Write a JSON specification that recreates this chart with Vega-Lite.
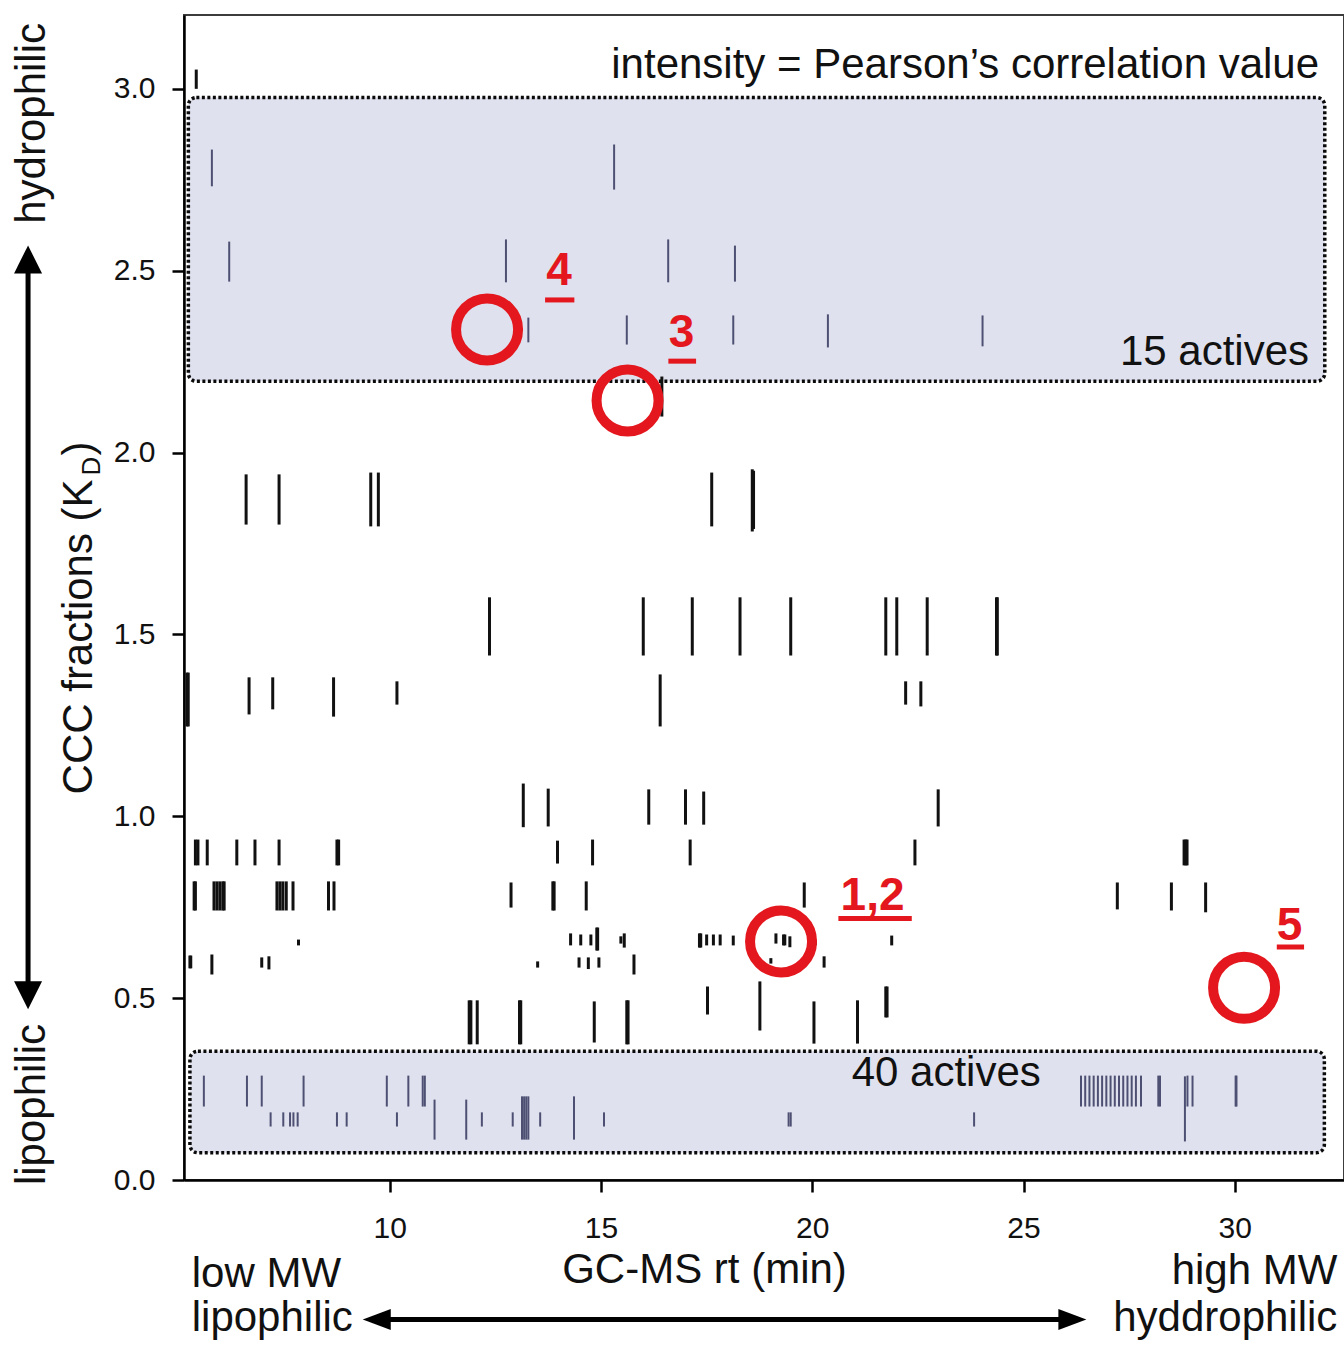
{
  "$schema": "https://vega.github.io/schema/vega-lite/v6.json",
  "width": 1160,
  "height": 1165,
  "autosize": {"type": "none"},
  "padding": {"left": 184, "top": 15, "right": 0, "bottom": 166},
  "background": "#ffffff",
  "config": {
    "font": "Liberation Sans",
    "view": {"stroke": "#3c3c3c", "strokeWidth": 2},
    "axis": {"grid": false, "domainColor": "#000000", "domainWidth": 2.5, "tickColor": "#000000", "tickWidth": 2.5, "tickSize": 12, "labelFont": "Liberation Sans", "labelFontSize": 30, "labelColor": "#111111"}
  },
  "datasets": {
    "boxes": [
      {"rt": 5.233, "rt2": 32.13, "kd": 2.196, "kd2": 2.976},
      {"rt": 5.27, "rt2": 32.12, "kd": 0.075, "kd2": 0.354}
    ],
    "peaks": [
      {"rt": 5.42, "kd": 3.0, "kd2": 3.053, "set": "other"},
      {"rt": 16.44, "kd": 2.099, "kd2": 2.209, "set": "other"},
      {"rt": 6.6, "kd": 1.802, "kd2": 1.94, "set": "other"},
      {"rt": 7.38, "kd": 1.802, "kd2": 1.94, "set": "other"},
      {"rt": 9.55, "kd": 1.797, "kd2": 1.945, "set": "other"},
      {"rt": 9.73, "kd": 1.797, "kd2": 1.945, "set": "other"},
      {"rt": 17.62, "kd": 1.797, "kd2": 1.945, "set": "other"},
      {"rt": 18.58, "kd": 1.783, "kd2": 1.954, "set": "other"},
      {"rt": 18.61, "kd": 1.79, "kd2": 1.95, "set": "other"},
      {"rt": 12.36, "kd": 1.442, "kd2": 1.602, "set": "other"},
      {"rt": 16.0, "kd": 1.442, "kd2": 1.602, "set": "other"},
      {"rt": 17.16, "kd": 1.442, "kd2": 1.602, "set": "other"},
      {"rt": 18.29, "kd": 1.442, "kd2": 1.602, "set": "other"},
      {"rt": 19.49, "kd": 1.442, "kd2": 1.602, "set": "other"},
      {"rt": 21.74, "kd": 1.442, "kd2": 1.602, "set": "other"},
      {"rt": 22.0, "kd": 1.442, "kd2": 1.602, "set": "other"},
      {"rt": 22.72, "kd": 1.442, "kd2": 1.602, "set": "other"},
      {"rt": 24.36, "kd": 1.442, "kd2": 1.602, "set": "other"},
      {"rt": 24.38, "kd": 1.442, "kd2": 1.602, "set": "other"},
      {"rt": 5.2, "kd": 1.247, "kd2": 1.395, "set": "other"},
      {"rt": 5.23, "kd": 1.247, "kd2": 1.395, "set": "other"},
      {"rt": 6.67, "kd": 1.28, "kd2": 1.382, "set": "other"},
      {"rt": 7.23, "kd": 1.294, "kd2": 1.382, "set": "other"},
      {"rt": 8.67, "kd": 1.274, "kd2": 1.382, "set": "other"},
      {"rt": 10.17, "kd": 1.307, "kd2": 1.371, "set": "other"},
      {"rt": 16.4, "kd": 1.247, "kd2": 1.39, "set": "other"},
      {"rt": 22.21, "kd": 1.307, "kd2": 1.371, "set": "other"},
      {"rt": 22.57, "kd": 1.302, "kd2": 1.371, "set": "other"},
      {"rt": 13.16, "kd": 0.97, "kd2": 1.09, "set": "other"},
      {"rt": 13.75, "kd": 0.972, "kd2": 1.076, "set": "other"},
      {"rt": 16.13, "kd": 0.977, "kd2": 1.074, "set": "other"},
      {"rt": 17.0, "kd": 0.977, "kd2": 1.074, "set": "other"},
      {"rt": 17.43, "kd": 0.977, "kd2": 1.068, "set": "other"},
      {"rt": 22.98, "kd": 0.972, "kd2": 1.074, "set": "other"},
      {"rt": 5.4, "kd": 0.865, "kd2": 0.936, "set": "other"},
      {"rt": 5.46, "kd": 0.865, "kd2": 0.936, "set": "other"},
      {"rt": 5.68, "kd": 0.865, "kd2": 0.936, "set": "other"},
      {"rt": 6.38, "kd": 0.865, "kd2": 0.936, "set": "other"},
      {"rt": 6.81, "kd": 0.865, "kd2": 0.936, "set": "other"},
      {"rt": 7.38, "kd": 0.865, "kd2": 0.936, "set": "other"},
      {"rt": 8.75, "kd": 0.865, "kd2": 0.936, "set": "other"},
      {"rt": 8.79, "kd": 0.865, "kd2": 0.936, "set": "other"},
      {"rt": 13.97, "kd": 0.87, "kd2": 0.933, "set": "other"},
      {"rt": 14.8, "kd": 0.865, "kd2": 0.936, "set": "other"},
      {"rt": 17.11, "kd": 0.865, "kd2": 0.936, "set": "other"},
      {"rt": 22.43, "kd": 0.865, "kd2": 0.936, "set": "other"},
      {"rt": 28.8, "kd": 0.865, "kd2": 0.936, "set": "other"},
      {"rt": 28.84, "kd": 0.865, "kd2": 0.936, "set": "other"},
      {"rt": 28.87, "kd": 0.865, "kd2": 0.936, "set": "other"},
      {"rt": 5.37, "kd": 0.741, "kd2": 0.821, "set": "other"},
      {"rt": 5.4, "kd": 0.741, "kd2": 0.821, "set": "other"},
      {"rt": 5.84, "kd": 0.741, "kd2": 0.821, "set": "other"},
      {"rt": 5.91, "kd": 0.741, "kd2": 0.821, "set": "other"},
      {"rt": 5.98, "kd": 0.741, "kd2": 0.821, "set": "other"},
      {"rt": 6.05, "kd": 0.741, "kd2": 0.821, "set": "other"},
      {"rt": 6.08, "kd": 0.741, "kd2": 0.821, "set": "other"},
      {"rt": 7.33, "kd": 0.741, "kd2": 0.821, "set": "other"},
      {"rt": 7.4, "kd": 0.741, "kd2": 0.821, "set": "other"},
      {"rt": 7.47, "kd": 0.741, "kd2": 0.821, "set": "other"},
      {"rt": 7.55, "kd": 0.741, "kd2": 0.821, "set": "other"},
      {"rt": 7.71, "kd": 0.741, "kd2": 0.821, "set": "other"},
      {"rt": 8.55, "kd": 0.741, "kd2": 0.821, "set": "other"},
      {"rt": 8.68, "kd": 0.741, "kd2": 0.821, "set": "other"},
      {"rt": 12.87, "kd": 0.749, "kd2": 0.818, "set": "other"},
      {"rt": 13.86, "kd": 0.741, "kd2": 0.821, "set": "other"},
      {"rt": 13.89, "kd": 0.741, "kd2": 0.821, "set": "other"},
      {"rt": 14.65, "kd": 0.741, "kd2": 0.821, "set": "other"},
      {"rt": 19.81, "kd": 0.749, "kd2": 0.818, "set": "other"},
      {"rt": 27.22, "kd": 0.744, "kd2": 0.818, "set": "other"},
      {"rt": 28.5, "kd": 0.741, "kd2": 0.818, "set": "other"},
      {"rt": 29.31, "kd": 0.736, "kd2": 0.818, "set": "other"},
      {"rt": 7.84, "kd": 0.645, "kd2": 0.661, "set": "other"},
      {"rt": 14.28, "kd": 0.645, "kd2": 0.678, "set": "other"},
      {"rt": 14.52, "kd": 0.645, "kd2": 0.675, "set": "other"},
      {"rt": 14.76, "kd": 0.645, "kd2": 0.675, "set": "other"},
      {"rt": 14.9, "kd": 0.631, "kd2": 0.694, "set": "other"},
      {"rt": 14.92, "kd": 0.631, "kd2": 0.694, "set": "other"},
      {"rt": 15.47, "kd": 0.65, "kd2": 0.67, "set": "other"},
      {"rt": 15.55, "kd": 0.639, "kd2": 0.678, "set": "other"},
      {"rt": 17.33, "kd": 0.639, "kd2": 0.678, "set": "other"},
      {"rt": 17.36, "kd": 0.639, "kd2": 0.678, "set": "other"},
      {"rt": 17.5, "kd": 0.645, "kd2": 0.675, "set": "other"},
      {"rt": 17.66, "kd": 0.645, "kd2": 0.675, "set": "other"},
      {"rt": 17.82, "kd": 0.645, "kd2": 0.675, "set": "other"},
      {"rt": 18.13, "kd": 0.645, "kd2": 0.672, "set": "other"},
      {"rt": 19.14, "kd": 0.65, "kd2": 0.678, "set": "other"},
      {"rt": 19.32, "kd": 0.645, "kd2": 0.675, "set": "other"},
      {"rt": 19.35, "kd": 0.645, "kd2": 0.675, "set": "other"},
      {"rt": 19.47, "kd": 0.64, "kd2": 0.67, "set": "other"},
      {"rt": 20.07, "kd": 0.645, "kd2": 0.661, "set": "other"},
      {"rt": 21.88, "kd": 0.645, "kd2": 0.672, "set": "other"},
      {"rt": 5.27, "kd": 0.582, "kd2": 0.617, "set": "other"},
      {"rt": 5.29, "kd": 0.582, "kd2": 0.617, "set": "other"},
      {"rt": 5.79, "kd": 0.565, "kd2": 0.62, "set": "other"},
      {"rt": 6.97, "kd": 0.584, "kd2": 0.612, "set": "other"},
      {"rt": 7.14, "kd": 0.579, "kd2": 0.615, "set": "other"},
      {"rt": 13.5, "kd": 0.584, "kd2": 0.601, "set": "other"},
      {"rt": 14.48, "kd": 0.584, "kd2": 0.612, "set": "other"},
      {"rt": 14.7, "kd": 0.58, "kd2": 0.612, "set": "other"},
      {"rt": 14.95, "kd": 0.584, "kd2": 0.612, "set": "other"},
      {"rt": 15.78, "kd": 0.565, "kd2": 0.62, "set": "other"},
      {"rt": 19.02, "kd": 0.595, "kd2": 0.61, "set": "other"},
      {"rt": 20.28, "kd": 0.584, "kd2": 0.615, "set": "other"},
      {"rt": 11.88, "kd": 0.373, "kd2": 0.494, "set": "other"},
      {"rt": 11.92, "kd": 0.373, "kd2": 0.494, "set": "other"},
      {"rt": 12.07, "kd": 0.373, "kd2": 0.494, "set": "other"},
      {"rt": 13.07, "kd": 0.373, "kd2": 0.494, "set": "other"},
      {"rt": 13.1, "kd": 0.373, "kd2": 0.494, "set": "other"},
      {"rt": 14.84, "kd": 0.378, "kd2": 0.491, "set": "other"},
      {"rt": 15.61, "kd": 0.373, "kd2": 0.494, "set": "other"},
      {"rt": 15.64, "kd": 0.373, "kd2": 0.494, "set": "other"},
      {"rt": 17.52, "kd": 0.455, "kd2": 0.532, "set": "other"},
      {"rt": 18.76, "kd": 0.411, "kd2": 0.546, "set": "other"},
      {"rt": 20.04, "kd": 0.375, "kd2": 0.491, "set": "other"},
      {"rt": 21.07, "kd": 0.375, "kd2": 0.494, "set": "other"},
      {"rt": 21.74, "kd": 0.447, "kd2": 0.532, "set": "other"},
      {"rt": 21.77, "kd": 0.447, "kd2": 0.532, "set": "other"},
      {"rt": 5.79, "kd": 2.732, "kd2": 2.833, "set": "active"},
      {"rt": 15.31, "kd": 2.723, "kd2": 2.847, "set": "active"},
      {"rt": 6.2, "kd": 2.47, "kd2": 2.58, "set": "active"},
      {"rt": 12.75, "kd": 2.468, "kd2": 2.586, "set": "active"},
      {"rt": 16.59, "kd": 2.468, "kd2": 2.586, "set": "active"},
      {"rt": 18.17, "kd": 2.47, "kd2": 2.569, "set": "active"},
      {"rt": 13.28, "kd": 2.303, "kd2": 2.371, "set": "active"},
      {"rt": 15.61, "kd": 2.297, "kd2": 2.377, "set": "active"},
      {"rt": 18.13, "kd": 2.297, "kd2": 2.377, "set": "active"},
      {"rt": 20.37, "kd": 2.289, "kd2": 2.38, "set": "active"},
      {"rt": 24.03, "kd": 2.292, "kd2": 2.377, "set": "active"},
      {"rt": 5.6, "kd": 0.202, "kd2": 0.287, "set": "active"},
      {"rt": 6.62, "kd": 0.202, "kd2": 0.287, "set": "active"},
      {"rt": 6.97, "kd": 0.202, "kd2": 0.287, "set": "active"},
      {"rt": 7.96, "kd": 0.202, "kd2": 0.287, "set": "active"},
      {"rt": 9.93, "kd": 0.202, "kd2": 0.287, "set": "active"},
      {"rt": 10.44, "kd": 0.202, "kd2": 0.287, "set": "active"},
      {"rt": 10.78, "kd": 0.202, "kd2": 0.287, "set": "active"},
      {"rt": 10.83, "kd": 0.202, "kd2": 0.287, "set": "active"},
      {"rt": 11.06, "kd": 0.111, "kd2": 0.221, "set": "active"},
      {"rt": 11.81, "kd": 0.111, "kd2": 0.221, "set": "active"},
      {"rt": 13.13, "kd": 0.111, "kd2": 0.23, "set": "active"},
      {"rt": 13.18, "kd": 0.111, "kd2": 0.23, "set": "active"},
      {"rt": 13.23, "kd": 0.111, "kd2": 0.23, "set": "active"},
      {"rt": 13.28, "kd": 0.111, "kd2": 0.23, "set": "active"},
      {"rt": 14.36, "kd": 0.111, "kd2": 0.23, "set": "active"},
      {"rt": 7.18, "kd": 0.147, "kd2": 0.186, "set": "active"},
      {"rt": 7.48, "kd": 0.147, "kd2": 0.186, "set": "active"},
      {"rt": 7.64, "kd": 0.147, "kd2": 0.186, "set": "active"},
      {"rt": 7.72, "kd": 0.147, "kd2": 0.186, "set": "active"},
      {"rt": 7.82, "kd": 0.147, "kd2": 0.186, "set": "active"},
      {"rt": 8.75, "kd": 0.147, "kd2": 0.186, "set": "active"},
      {"rt": 8.98, "kd": 0.147, "kd2": 0.186, "set": "active"},
      {"rt": 10.17, "kd": 0.147, "kd2": 0.186, "set": "active"},
      {"rt": 12.18, "kd": 0.147, "kd2": 0.186, "set": "active"},
      {"rt": 12.91, "kd": 0.147, "kd2": 0.186, "set": "active"},
      {"rt": 13.56, "kd": 0.147, "kd2": 0.186, "set": "active"},
      {"rt": 15.07, "kd": 0.147, "kd2": 0.186, "set": "active"},
      {"rt": 19.44, "kd": 0.147, "kd2": 0.186, "set": "active"},
      {"rt": 19.49, "kd": 0.147, "kd2": 0.186, "set": "active"},
      {"rt": 23.83, "kd": 0.147, "kd2": 0.186, "set": "active"},
      {"rt": 26.36, "kd": 0.202, "kd2": 0.287, "set": "active"},
      {"rt": 26.46, "kd": 0.202, "kd2": 0.287, "set": "active"},
      {"rt": 26.56, "kd": 0.202, "kd2": 0.287, "set": "active"},
      {"rt": 26.66, "kd": 0.202, "kd2": 0.287, "set": "active"},
      {"rt": 26.76, "kd": 0.202, "kd2": 0.287, "set": "active"},
      {"rt": 26.86, "kd": 0.202, "kd2": 0.287, "set": "active"},
      {"rt": 26.96, "kd": 0.202, "kd2": 0.287, "set": "active"},
      {"rt": 27.06, "kd": 0.202, "kd2": 0.287, "set": "active"},
      {"rt": 27.16, "kd": 0.202, "kd2": 0.287, "set": "active"},
      {"rt": 27.26, "kd": 0.202, "kd2": 0.287, "set": "active"},
      {"rt": 27.36, "kd": 0.202, "kd2": 0.287, "set": "active"},
      {"rt": 27.46, "kd": 0.202, "kd2": 0.287, "set": "active"},
      {"rt": 27.56, "kd": 0.202, "kd2": 0.287, "set": "active"},
      {"rt": 27.66, "kd": 0.202, "kd2": 0.287, "set": "active"},
      {"rt": 27.78, "kd": 0.202, "kd2": 0.287, "set": "active"},
      {"rt": 28.19, "kd": 0.202, "kd2": 0.287, "set": "active"},
      {"rt": 28.23, "kd": 0.202, "kd2": 0.287, "set": "active"},
      {"rt": 28.82, "kd": 0.106, "kd2": 0.285, "set": "active"},
      {"rt": 28.88, "kd": 0.202, "kd2": 0.287, "set": "active"},
      {"rt": 29.0, "kd": 0.202, "kd2": 0.287, "set": "active"},
      {"rt": 30.02, "kd": 0.202, "kd2": 0.287, "set": "active"},
      {"rt": 30.04, "kd": 0.202, "kd2": 0.287, "set": "active"}
    ],
    "circles": [
      {"compound": "4", "rt": 12.303, "kd": 2.3385},
      {"compound": "3", "rt": 15.628, "kd": 2.1433},
      {"compound": "1,2", "rt": 19.261, "kd": 0.6558},
      {"compound": "5", "rt": 30.22, "kd": 0.5285}
    ],
    "labels": [
      {"text": "4", "rt": 14.007, "kd": 2.462, "rt2": 13.676, "rt3": 14.369, "kdu": 2.4196},
      {"text": "3", "rt": 16.906, "kd": 2.289, "rt2": 16.594, "rt3": 17.25, "kdu": 2.2513},
      {"text": "1,2", "rt": 21.427, "kd": 0.7437, "rt2": 20.618, "rt3": 22.355, "kdu": 0.719},
      {"text": "5", "rt": 31.297, "kd": 0.6585, "rt2": 30.994, "rt3": 31.64, "kdu": 0.6406}
    ],
    "notes_right": [
      {"text": "intensity = Pearson’s correlation value", "rt": 31.995, "kd": 3.0305},
      {"text": "15 actives", "rt": 31.758, "kd": 2.242},
      {"text": "40 actives", "rt": 25.408, "kd": 0.258},
      {"text": "high MW", "rt": 32.428, "kd": -0.2873},
      {"text": "hyddrophilic", "rt": 32.428, "kd": -0.4157}
    ],
    "notes_left": [
      {"text": "low MW", "rt": 5.313, "kd": -0.2937},
      {"text": "lipophilic", "rt": 5.313, "kd": -0.4157}
    ],
    "notes_side": [
      {"text": "hydrophilic", "rt": 1.841, "kd": 2.905},
      {"text": "lipophilic", "rt": 1.841, "kd": 0.2076}
    ],
    "ytitle_main": [
      {"text": "CCC fractions (K", "rt": 2.946, "kd": 1.06},
      {"text": ")", "rt": 2.946, "kd": 1.992}
    ],
    "ytitle_sub": [
      {"text": "D", "rt": 3.143, "kd": 1.937}
    ],
    "heads": [
      {"dir": "up", "rt": 1.439, "kd": 2.531},
      {"dir": "down", "rt": 1.439, "kd": 0.508},
      {"dir": "left", "rt": 9.692, "kd": -0.3836},
      {"dir": "right", "rt": 26.156, "kd": -0.3836}
    ],
    "shaft_v": [
      {"rt": 1.439, "kd": 0.52, "kd2": 2.52}
    ],
    "shaft_h": [
      {"rt": 9.75, "rt2": 26.1, "kd": -0.3836}
    ]
  },
  "encoding": {
    "x": {
      "field": "rt", "type": "quantitative",
      "scale": {"domain": [5.13, 32.585], "nice": false, "zero": false},
      "axis": {"values": [10, 15, 20, 25, 30], "labelPadding": 21, "title": "GC-MS rt (min)", "titleFont": "Liberation Sans", "titleFontSize": 42, "titleFontWeight": "normal", "titleColor": "#111111", "titleX": 520, "titleY": 102, "titleAlign": "center", "titleBaseline": "alphabetic"}
    },
    "y": {
      "field": "kd", "type": "quantitative",
      "scale": {"domain": [0, 3.203], "nice": false, "zero": false},
      "axis": {"values": [0, 0.5, 1, 1.5, 2, 2.5, 3], "format": ".1f", "labelPadding": 17, "title": null}
    }
  },
  "layer": [
    {
      "data": {"name": "boxes"},
      "mark": {"type": "rect", "fill": "#e0e1ee", "stroke": "#0a0a0a", "strokeWidth": 3.5, "strokeDash": [3, 2.5], "cornerRadius": 8},
      "encoding": {"x2": {"field": "rt2"}, "y2": {"field": "kd2"}}
    },
    {
      "data": {"name": "peaks"},
      "mark": {"type": "rule"},
      "encoding": {
        "y2": {"field": "kd2"},
        "color": {"field": "set", "type": "nominal", "scale": {"domain": ["other", "active"], "range": ["#111111", "#4d5072"]}, "legend": null},
        "strokeWidth": {"field": "set", "type": "nominal", "scale": {"domain": ["other", "active"], "range": [3, 2]}, "legend": null}
      }
    },
    {
      "data": {"name": "shaft_v"},
      "mark": {"type": "rule", "color": "#000000", "strokeWidth": 5},
      "encoding": {"y2": {"field": "kd2"}}
    },
    {
      "data": {"name": "shaft_h"},
      "mark": {"type": "rule", "color": "#000000", "strokeWidth": 5},
      "encoding": {"x2": {"field": "rt2"}}
    },
    {
      "data": {"name": "heads"},
      "mark": {"type": "point", "filled": true, "color": "#000000", "opacity": 1, "size": 784},
      "encoding": {
        "shape": {"field": "dir", "type": "nominal", "scale": {"domain": ["up", "down", "left", "right"], "range": ["M0,-1L-1,1L1,1Z", "M0,1L-1,-1L1,-1Z", "M-1,0L1,-0.75L1,0.75Z", "M1,0L-1,-0.75L-1,0.75Z"]}, "legend": null}
      }
    },
    {
      "data": {"name": "notes_right"},
      "mark": {"type": "text", "align": "right", "baseline": "alphabetic", "fontSize": 42, "color": "#111111"},
      "encoding": {"text": {"field": "text"}}
    },
    {
      "data": {"name": "notes_left"},
      "mark": {"type": "text", "align": "left", "baseline": "alphabetic", "fontSize": 42, "color": "#111111"},
      "encoding": {"text": {"field": "text"}}
    },
    {
      "data": {"name": "notes_side"},
      "mark": {"type": "text", "align": "center", "baseline": "alphabetic", "angle": 270, "fontSize": 42, "color": "#111111"},
      "encoding": {"text": {"field": "text"}}
    },
    {
      "data": {"name": "ytitle_main"},
      "mark": {"type": "text", "align": "left", "baseline": "alphabetic", "angle": 270, "fontSize": 42, "color": "#111111"},
      "encoding": {"text": {"field": "text"}}
    },
    {
      "data": {"name": "ytitle_sub"},
      "mark": {"type": "text", "align": "left", "baseline": "alphabetic", "angle": 270, "fontSize": 26, "color": "#111111"},
      "encoding": {"text": {"field": "text"}}
    },
    {
      "data": {"name": "circles"},
      "mark": {"type": "point", "shape": "circle", "filled": false, "color": "#e3171d", "strokeWidth": 10, "size": 3844, "opacity": 1},
      "encoding": {}
    },
    {
      "data": {"name": "labels"},
      "mark": {"type": "text", "align": "center", "baseline": "alphabetic", "fontSize": 46, "fontWeight": "bold", "color": "#e3171d"},
      "encoding": {"text": {"field": "text"}}
    },
    {
      "data": {"name": "labels"},
      "mark": {"type": "rule", "color": "#e3171d", "strokeWidth": 5},
      "encoding": {"x": {"field": "rt2", "type": "quantitative"}, "x2": {"field": "rt3"}, "y": {"field": "kdu", "type": "quantitative"}}
    }
  ]
}
